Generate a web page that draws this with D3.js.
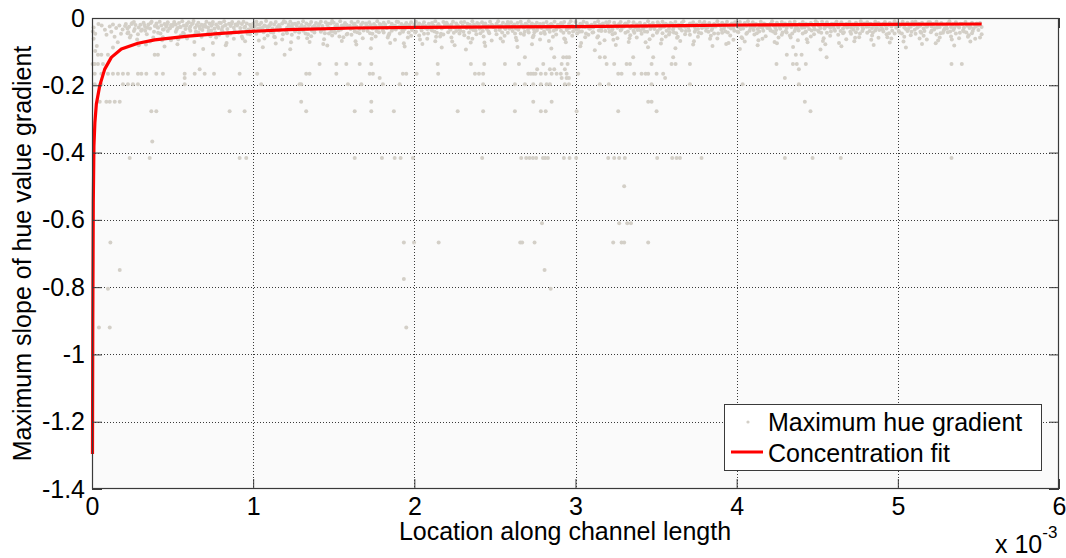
<!DOCTYPE html>
<html>
<head>
<meta charset="utf-8">
<script src="https://cdn.jsdelivr.net/npm/d3@7"></script>
<style>
  html, body { margin: 0; padding: 0; background: #fff; }
  svg text { font-family: "Liberation Sans", Arial, sans-serif; fill: #000; }
</style>
</head>
<body>
<div id="chart"></div>
<script>
// tick values (x axis is in units of 10^-3)
var xTicks = [0, 1, 2, 3, 4, 5, 6];
var yTicks = [0, -0.2, -0.4, -0.6, -0.8, -1, -1.2, -1.4];
var yTickLabels = ['0', '-0.2', '-0.4', '-0.6', '-0.8', '-1', '-1.2', '-1.4'];

// concentration fit
var fitX = [0.003, 0.005, 0.008, 0.012, 0.018, 0.027, 0.048, 0.079, 0.12, 0.182, 0.285, 0.389, 0.596, 0.802, 0.988, 1.216, 1.63, 2.02, 3.0, 3.66, 4.04, 4.85, 5.52];
var fitY = [-1.296, -0.9, -0.55, -0.38, -0.31, -0.256, -0.201, -0.152, -0.117, -0.092, -0.075, -0.065, -0.054, -0.0456, -0.0397, -0.0347, -0.0297, -0.0277, -0.0258, -0.0229, -0.0208, -0.0187, -0.0178];

// dense cloud of maximum hue gradient points near the top
var bandPts = [
[0.01,-.028],[0.02,-.047],[0.01,-.062],[0.03,-.083],[0.02,-.098],[0.06,-.022],[0.08,-.035],[0.09,-.05],[0.005,-.04],[0.04,-.018],
[0.11,-.025],[0.12,-.041],[0.13,-.019],[0.14,-.056],[0.15,-.03],[0.16,-.072],[0.17,-.022],[0.18,-.047],[0.19,-.034],[0.13,-.088],
[0.21,-.018],[0.22,-.031],[0.23,-.026],[0.24,-.052],[0.25,-.015],[0.26,-.039],[0.27,-.021],[0.28,-.064],[0.29,-.028],[0.22,-.045],[0.26,-.012],[0.29,-.081],
[0.30,-.02],[0.31,-.034],[0.32,-.014],[0.33,-.027],[0.34,-.048],[0.35,-.019],[0.36,-.031],[0.37,-.011],[0.38,-.058],[0.39,-.024],[0.33,-.038],[0.36,-.07],
[0.40,-.016],[0.41,-.029],[0.42,-.011],[0.43,-.022],[0.44,-.034],[0.45,-.018],[0.46,-.026],[0.47,-.013],[0.48,-.031],[0.49,-.021],[0.41,-.044],[0.44,-.057],[0.47,-.039],[0.49,-.066],[0.45,-.085],
[0.50,-.024],[0.51,-.012],[0.52,-.019],[0.53,-.03],[0.54,-.015],[0.55,-.027],[0.56,-.01],[0.57,-.022],[0.58,-.033],[0.59,-.017],[0.52,-.041],[0.55,-.052],[0.57,-.047],[0.59,-.061],[0.53,-.078],
[0.60,-.013],[0.61,-.025],[0.62,-.018],[0.63,-.009],[0.64,-.029],[0.65,-.021],[0.66,-.014],[0.67,-.032],[0.68,-.02],[0.69,-.026],[0.61,-.038],[0.64,-.049],[0.66,-.043],[0.68,-.056],[0.69,-.092],
[0.70,-.02],[0.71,-.011],[0.72,-.028],[0.73,-.016],[0.74,-.023],[0.75,-.012],[0.76,-.031],[0.77,-.019],[0.78,-.025],[0.79,-.014],[0.72,-.045],[0.74,-.037],[0.77,-.058],[0.79,-.05],[0.75,-.074],
[0.80,-.015],[0.81,-.027],[0.82,-.01],[0.83,-.021],[0.84,-.033],[0.85,-.017],[0.86,-.024],[0.87,-.012],[0.88,-.029],[0.89,-.019],[0.81,-.04],[0.84,-.053],[0.86,-.046],[0.88,-.062],[0.83,-.081],
[0.90,-.022],[0.91,-.013],[0.92,-.03],[0.93,-.018],[0.94,-.011],[0.95,-.026],[0.96,-.016],[0.97,-.034],[0.98,-.02],[0.99,-.028],[0.91,-.043],[0.93,-.055],[0.96,-.038],[0.98,-.048],[0.95,-.069],
[1.00,-.017],[1.01,-.026],[1.02,-.011],[1.03,-.032],[1.04,-.02],[1.05,-.014],[1.06,-.028],[1.07,-.022],[1.08,-.009],[1.09,-.03],[1.02,-.047],[1.04,-.039],[1.07,-.061],[1.09,-.052],[1.06,-.087],
[1.10,-.024],[1.11,-.015],[1.12,-.031],[1.13,-.019],[1.14,-.012],[1.15,-.027],[1.16,-.021],[1.17,-.034],[1.18,-.016],[1.19,-.01],[1.11,-.042],[1.13,-.056],[1.16,-.037],[1.18,-.064],[1.14,-.076],
[1.20,-.013],[1.21,-.029],[1.22,-.02],[1.23,-.011],[1.24,-.025],[1.25,-.033],[1.26,-.017],[1.27,-.023],[1.28,-.014],[1.29,-.028],[1.21,-.045],[1.24,-.05],[1.26,-.04],[1.28,-.059],[1.23,-.093],
[1.30,-.021],[1.31,-.01],[1.32,-.026],[1.33,-.016],[1.34,-.031],[1.35,-.019],[1.36,-.012],[1.37,-.027],[1.38,-.023],[1.39,-.015],[1.31,-.038],[1.34,-.048],[1.36,-.054],[1.38,-.043],[1.35,-.071],
[1.40,-.028],[1.41,-.018],[1.42,-.011],[1.43,-.024],[1.44,-.034],[1.45,-.013],[1.46,-.021],[1.47,-.03],[1.48,-.016],[1.49,-.009],[1.42,-.041],[1.44,-.063],[1.47,-.046],[1.49,-.052],[1.46,-.082],
[1.50,-.014],[1.51,-.025],[1.52,-.019],[1.53,-.032],[1.54,-.01],[1.55,-.022],[1.56,-.029],[1.57,-.015],[1.58,-.02],[1.59,-.026],[1.51,-.044],[1.53,-.037],[1.56,-.057],[1.58,-.049],[1.55,-.068],
[1.60,-.023],[1.61,-.012],[1.62,-.03],[1.63,-.017],[1.64,-.025],[1.65,-.011],[1.66,-.033],[1.67,-.019],[1.68,-.014],[1.69,-.028],[1.61,-.05],[1.63,-.04],[1.66,-.045],[1.68,-.06],[1.64,-.079],
[1.70,-.016],[1.71,-.027],[1.72,-.013],[1.73,-.021],[1.74,-.031],[1.75,-.018],[1.76,-.024],[1.77,-.01],[1.78,-.029],[1.79,-.02],[1.71,-.039],[1.74,-.047],[1.76,-.055],[1.78,-.042],[1.73,-.09],
[1.80,-.025],[1.81,-.014],[1.82,-.02],[1.83,-.03],[1.84,-.012],[1.85,-.026],[1.86,-.017],[1.87,-.032],[1.88,-.022],[1.89,-.011],[1.81,-.043],[1.84,-.051],[1.86,-.038],[1.88,-.065],[1.85,-.074],
[1.90,-.012],[1.91,-.028],[1.92,-.018],[1.93,-.023],[1.94,-.033],[1.95,-.015],[1.96,-.027],[1.97,-.02],[1.98,-.013],[1.99,-.03],[1.91,-.046],[1.93,-.041],[1.96,-.058],[1.98,-.053],[1.94,-.085],
[2.00,-.019],[2.01,-.011],[2.02,-.026],[2.03,-.016],[2.04,-.03],[2.05,-.021],[2.06,-.013],[2.07,-.024],[2.08,-.033],[2.09,-.017],[2.01,-.04],[2.03,-.052],[2.06,-.047],[2.08,-.062],[2.05,-.077],
[2.10,-.027],[2.11,-.015],[2.12,-.022],[2.13,-.01],[2.14,-.029],[2.15,-.018],[2.16,-.025],[2.17,-.031],[2.18,-.012],[2.19,-.021],[2.11,-.037],[2.14,-.044],[2.16,-.055],[2.18,-.049],[2.13,-.069],[2.17,-.088],
[2.20,-.014],[2.21,-.023],[2.22,-.031],[2.23,-.019],[2.24,-.011],[2.25,-.028],[2.26,-.016],[2.27,-.022],[2.28,-.034],[2.29,-.013],[2.21,-.042],[2.23,-.058],[2.26,-.039],[2.28,-.046],[2.25,-.081],
[2.30,-.022],[2.31,-.012],[2.32,-.027],[2.33,-.017],[2.34,-.024],[2.35,-.032],[2.36,-.01],[2.37,-.019],[2.38,-.026],[2.39,-.015],[2.31,-.051],[2.34,-.043],[2.36,-.062],[2.38,-.038],[2.35,-.073],[2.32,-.094],
[2.40,-.018],[2.41,-.029],[2.42,-.013],[2.43,-.021],[2.44,-.016],[2.45,-.033],[2.46,-.024],[2.47,-.011],[2.48,-.02],[2.49,-.027],[2.41,-.045],[2.43,-.055],[2.46,-.04],[2.48,-.067],[2.44,-.083],
[2.50,-.025],[2.51,-.017],[2.52,-.01],[2.53,-.03],[2.54,-.022],[2.55,-.014],[2.56,-.028],[2.57,-.019],[2.58,-.012],[2.59,-.032],[2.51,-.048],[2.53,-.036],[2.56,-.053],[2.58,-.044],[2.55,-.07],
[2.60,-.013],[2.61,-.024],[2.62,-.019],[2.63,-.031],[2.64,-.015],[2.65,-.027],[2.66,-.011],[2.67,-.022],[2.68,-.029],[2.69,-.017],[2.61,-.039],[2.63,-.059],[2.66,-.046],[2.68,-.05],[2.64,-.086],
[2.70,-.021],[2.71,-.01],[2.72,-.028],[2.73,-.016],[2.74,-.033],[2.75,-.02],[2.76,-.014],[2.77,-.025],[2.78,-.018],[2.79,-.03],[2.71,-.043],[2.74,-.052],[2.76,-.037],[2.78,-.064],[2.73,-.078],
[2.80,-.016],[2.81,-.026],[2.82,-.012],[2.83,-.022],[2.84,-.03],[2.85,-.018],[2.86,-.024],[2.87,-.011],[2.88,-.034],[2.89,-.02],[2.81,-.047],[2.84,-.041],[2.86,-.056],[2.88,-.049],[2.85,-.091],
[2.90,-.027],[2.91,-.015],[2.92,-.021],[2.93,-.012],[2.94,-.025],[2.95,-.031],[2.96,-.018],[2.97,-.01],[2.98,-.023],[2.99,-.029],[2.91,-.038],[2.93,-.061],[2.96,-.044],[2.98,-.053],[2.94,-.072],
[3.00,-.012],[3.01,-.023],[3.02,-.03],[3.03,-.017],[3.04,-.02],[3.05,-.011],[3.06,-.027],[3.07,-.015],[3.08,-.022],[3.09,-.032],[3.01,-.046],[3.04,-.04],[3.06,-.057],[3.08,-.05],[3.03,-.084],
[3.10,-.02],[3.11,-.028],[3.12,-.014],[3.13,-.024],[3.14,-.01],[3.15,-.019],[3.16,-.031],[3.17,-.016],[3.18,-.026],[3.19,-.013],[3.11,-.042],[3.14,-.054],[3.16,-.039],[3.18,-.066],[3.15,-.075],[3.12,-.096],
[3.20,-.017],[3.21,-.011],[3.22,-.025],[3.23,-.033],[3.24,-.014],[3.25,-.022],[3.26,-.029],[3.27,-.018],[3.28,-.012],[3.29,-.024],[3.21,-.041],[3.23,-.048],[3.26,-.06],[3.28,-.037],[3.25,-.08],
[3.30,-.026],[3.31,-.016],[3.32,-.021],[3.33,-.011],[3.34,-.03],[3.35,-.023],[3.36,-.013],[3.37,-.028],[3.38,-.019],[3.39,-.032],[3.31,-.044],[3.34,-.051],[3.36,-.038],[3.38,-.058],[3.33,-.071],
[3.40,-.014],[3.41,-.022],[3.42,-.031],[3.43,-.018],[3.44,-.025],[3.45,-.01],[3.46,-.02],[3.47,-.027],[3.48,-.015],[3.49,-.033],[3.41,-.047],[3.43,-.04],[3.46,-.063],[3.48,-.052],[3.45,-.087],
[3.50,-.023],[3.51,-.013],[3.52,-.019],[3.53,-.029],[3.54,-.011],[3.55,-.026],[3.56,-.017],[3.57,-.021],[3.58,-.032],[3.59,-.015],[3.51,-.039],[3.54,-.045],[3.56,-.055],[3.58,-.049],[3.53,-.076],
[3.60,-.018],[3.61,-.027],[3.62,-.012],[3.63,-.024],[3.64,-.02],[3.65,-.031],[3.66,-.014],[3.67,-.01],[3.68,-.026],[3.69,-.022],[3.61,-.043],[3.63,-.059],[3.66,-.037],[3.68,-.048],[3.65,-.068],[3.62,-.09],
[3.70,-.029],[3.71,-.016],[3.72,-.022],[3.73,-.013],[3.74,-.027],[3.75,-.019],[3.76,-.033],[3.77,-.011],[3.78,-.024],[3.79,-.017],[3.71,-.05],[3.74,-.041],[3.76,-.056],[3.78,-.045],[3.73,-.079],
[3.80,-.012],[3.81,-.021],[3.82,-.028],[3.83,-.015],[3.84,-.023],[3.85,-.03],[3.86,-.018],[3.87,-.025],[3.88,-.01],[3.89,-.02],[3.81,-.038],[3.84,-.053],[3.86,-.046],[3.88,-.061],[3.85,-.083],
[3.90,-.024],[3.91,-.014],[3.92,-.032],[3.93,-.019],[3.94,-.011],[3.95,-.026],[3.96,-.021],[3.97,-.016],[3.98,-.029],[3.99,-.013],[3.91,-.044],[3.93,-.04],[3.96,-.052],[3.98,-.065],[3.95,-.074],
[4.00,-.019],[4.01,-.027],[4.02,-.012],[4.03,-.022],[4.04,-.031],[4.05,-.015],[4.06,-.024],[4.07,-.01],[4.08,-.02],[4.09,-.028],[4.01,-.042],[4.03,-.057],[4.06,-.047],[4.08,-.038],[4.05,-.07],[4.02,-.092],
[4.10,-.013],[4.11,-.025],[4.12,-.018],[4.13,-.033],[4.14,-.021],[4.15,-.011],[4.16,-.029],[4.17,-.016],[4.18,-.023],[4.19,-.03],[4.11,-.049],[4.14,-.04],[4.16,-.062],[4.18,-.054],[4.13,-.081],
[4.20,-.026],[4.21,-.017],[4.22,-.01],[4.23,-.022],[4.24,-.028],[4.25,-.014],[4.26,-.02],[4.27,-.032],[4.28,-.012],[4.29,-.024],[4.21,-.037],[4.24,-.045],[4.26,-.058],[4.28,-.05],[4.25,-.075],
[4.30,-.016],[4.31,-.03],[4.32,-.021],[4.33,-.013],[4.34,-.027],[4.35,-.019],[4.36,-.011],[4.37,-.025],[4.38,-.031],[4.39,-.018],[4.31,-.043],[4.33,-.052],[4.36,-.039],[4.38,-.066],[4.35,-.086],
[4.40,-.022],[4.41,-.012],[4.42,-.028],[4.43,-.017],[4.44,-.024],[4.45,-.033],[4.46,-.015],[4.47,-.02],[4.48,-.027],[4.49,-.01],[4.41,-.046],[4.43,-.04],[4.46,-.055],[4.48,-.048],[4.44,-.072],
[4.50,-.014],[4.51,-.023],[4.52,-.03],[4.53,-.011],[4.54,-.019],[4.55,-.026],[4.56,-.013],[4.57,-.021],[4.58,-.029],[4.59,-.017],[4.51,-.041],[4.54,-.06],[4.56,-.044],[4.58,-.053],[4.55,-.078],[4.52,-.094],
[4.60,-.025],[4.61,-.016],[4.62,-.011],[4.63,-.028],[4.64,-.02],[4.65,-.013],[4.66,-.031],[4.67,-.022],[4.68,-.018],[4.69,-.026],[4.61,-.038],[4.63,-.05],[4.66,-.045],[4.68,-.063],[4.65,-.084],
[4.70,-.012],[4.71,-.029],[4.72,-.019],[4.73,-.024],[4.74,-.014],[4.75,-.032],[4.76,-.021],[4.77,-.01],[4.78,-.027],[4.79,-.016],[4.71,-.047],[4.74,-.042],[4.76,-.057],[4.78,-.039],[4.73,-.069],
[4.80,-.02],[4.81,-.013],[4.82,-.026],[4.83,-.017],[4.84,-.03],[4.85,-.022],[4.86,-.011],[4.87,-.028],[4.88,-.015],[4.89,-.023],[4.81,-.044],[4.84,-.052],[4.86,-.037],[4.88,-.059],[4.85,-.08],
[4.90,-.027],[4.91,-.018],[4.92,-.012],[4.93,-.031],[4.94,-.021],[4.95,-.015],[4.96,-.025],[4.97,-.019],[4.98,-.01],[4.99,-.029],[4.91,-.04],[4.93,-.048],[4.96,-.061],[4.98,-.046],[4.95,-.073],
[5.00,-.016],[5.01,-.024],[5.02,-.02],[5.03,-.011],[5.04,-.028],[5.05,-.033],[5.06,-.014],[5.07,-.022],[5.08,-.026],[5.09,-.012],[5.01,-.043],[5.04,-.056],[5.06,-.039],[5.08,-.051],[5.05,-.088],
[5.10,-.021],[5.11,-.011],[5.12,-.029],[5.13,-.017],[5.14,-.023],[5.15,-.014],[5.16,-.031],[5.17,-.02],[5.18,-.026],[5.19,-.013],[5.11,-.047],[5.14,-.041],[5.16,-.053],[5.18,-.064],[5.15,-.077],
[5.20,-.013],[5.21,-.025],[5.22,-.018],[5.23,-.03],[5.24,-.011],[5.25,-.022],[5.26,-.027],[5.27,-.015],[5.28,-.02],[5.29,-.032],[5.21,-.038],[5.24,-.049],[5.26,-.058],[5.28,-.044],[5.25,-.067],
[5.30,-.024],[5.31,-.016],[5.32,-.01],[5.33,-.027],[5.34,-.019],[5.35,-.03],[5.36,-.013],[5.37,-.022],[5.38,-.028],[5.39,-.017],[5.31,-.042],[5.33,-.055],[5.36,-.046],[5.38,-.06],[5.35,-.082],
[5.40,-.018],[5.41,-.029],[5.42,-.012],[5.43,-.023],[5.44,-.02],[5.45,-.026],[5.46,-.014],[5.47,-.031],[5.48,-.021],[5.49,-.016],[5.41,-.04],[5.44,-.051],[5.46,-.045],[5.48,-.062],[5.45,-.07],
[5.50,-.022],[5.51,-.015],[5.52,-.027],[5.50,-.036],[5.52,-.048],[5.51,-.058]
];

// second layer of the cloud, filling the gaps between the first
var bandPts2 = [
[.205,-.024],[.225,-.042],[.245,-.018],[.265,-.033],[.285,-.048],[.235,-.058],
[.305,-.038],[.325,-.021],[.345,-.029],[.365,-.015],[.385,-.041],[.335,-.079],
[.405,-.027],[.425,-.046],[.445,-.034],[.465,-.02],[.485,-.03],[.435,-.066],
[.505,-.019],[.525,-.035],[.545,-.027],[.565,-.044],[.585,-.023],[.535,-.063],
[.605,-.031],[.625,-.016],[.645,-.04],[.665,-.025],[.685,-.036],[.635,-.071],
[.705,-.026],[.725,-.037],[.745,-.019],[.765,-.043],[.785,-.03],[.735,-.054],
[.805,-.035],[.825,-.022],[.845,-.045],[.865,-.017],[.885,-.039],[.835,-.074],
[.905,-.018],[.925,-.04],[.945,-.028],[.965,-.047],[.985,-.024],[.935,-.061],
[1.005,-.036],[1.025,-.019],[1.045,-.031],[1.065,-.042],[1.085,-.025],[1.035,-.067],
[1.105,-.02],[1.125,-.044],[1.145,-.033],[1.165,-.026],[1.185,-.048],[1.135,-.057],
[1.205,-.039],[1.225,-.024],[1.245,-.018],[1.265,-.035],[1.285,-.043],[1.235,-.072],
[1.305,-.029],[1.325,-.046],[1.345,-.021],[1.365,-.038],[1.385,-.032],[1.335,-.06],
[1.405,-.023],[1.425,-.036],[1.445,-.045],[1.465,-.017],[1.485,-.04],[1.435,-.077],
[1.505,-.041],[1.525,-.027],[1.545,-.034],[1.565,-.021],[1.585,-.047],[1.535,-.055],
[1.605,-.033],[1.625,-.019],[1.645,-.042],[1.665,-.028],[1.685,-.037],[1.635,-.069],
[1.705,-.022],[1.725,-.045],[1.745,-.03],[1.765,-.039],[1.785,-.018],[1.735,-.062],
[1.805,-.037],[1.825,-.028],[1.845,-.046],[1.865,-.023],[1.885,-.034],[1.835,-.058],
[1.905,-.025],[1.925,-.038],[1.945,-.02],[1.965,-.043],[1.985,-.036],[1.935,-.075],
[2.005,-.043],[2.025,-.021],[2.045,-.037],[2.065,-.029],[2.085,-.046],[2.035,-.064],
[2.105,-.034],[2.125,-.04],[2.145,-.023],[2.165,-.047],[2.185,-.027],[2.135,-.056],
[2.205,-.019],[2.225,-.035],[2.245,-.044],[2.265,-.026],[2.285,-.038],[2.235,-.07],
[2.305,-.041],[2.325,-.03],[2.345,-.02],[2.365,-.036],[2.385,-.048],[2.335,-.059],
[2.405,-.032],[2.425,-.039],[2.445,-.026],[2.465,-.045],[2.485,-.022],[2.435,-.073],
[2.505,-.037],[2.525,-.024],[2.545,-.043],[2.565,-.033],[2.585,-.019],[2.535,-.061],
[2.605,-.028],[2.625,-.046],[2.645,-.035],[2.665,-.021],[2.685,-.041],[2.635,-.066],
[2.705,-.036],[2.725,-.02],[2.745,-.042],[2.765,-.03],[2.785,-.045],[2.735,-.057],
[2.805,-.04],[2.825,-.033],[2.845,-.019],[2.865,-.038],[2.885,-.027],[2.835,-.068],
[2.905,-.021],[2.925,-.044],[2.945,-.036],[2.965,-.029],[2.985,-.04],[2.935,-.063],
[3.005,-.035],[3.025,-.041],[3.045,-.026],[3.065,-.046],[3.085,-.031],[3.035,-.074],
[3.105,-.043],[3.125,-.023],[3.145,-.037],[3.165,-.02],[3.185,-.039],[3.135,-.058],
[3.205,-.03],[3.225,-.038],[3.245,-.045],[3.265,-.024],[3.285,-.034],[3.235,-.065],
[3.305,-.019],[3.325,-.04],[3.345,-.027],[3.365,-.044],[3.385,-.036],[3.335,-.06],
[3.405,-.037],[3.425,-.026],[3.445,-.041],[3.465,-.033],[3.485,-.022],[3.435,-.072],
[3.505,-.044],[3.525,-.032],[3.545,-.02],[3.565,-.038],[3.585,-.042],[3.535,-.064],
[3.605,-.034],[3.625,-.045],[3.645,-.029],[3.665,-.023],[3.685,-.039],[3.635,-.056],
[3.705,-.038],[3.725,-.021],[3.745,-.035],[3.765,-.044],[3.785,-.03],[3.735,-.069],
[3.805,-.027],[3.825,-.041],[3.845,-.036],[3.865,-.02],[3.885,-.046],[3.835,-.062],
[3.905,-.035],[3.925,-.025],[3.945,-.043],[3.965,-.031],[3.985,-.038],[3.935,-.077],
[4.005,-.04],[4.025,-.033],[4.045,-.021],[4.065,-.044],[4.085,-.029],[4.035,-.06],
[4.105,-.036],[4.125,-.045],[4.145,-.027],[4.165,-.038],[4.185,-.02],[4.135,-.066],
[4.205,-.031],[4.225,-.04],[4.245,-.036],[4.265,-.025],[4.285,-.043],[4.235,-.071],
[4.305,-.039],[4.325,-.022],[4.345,-.046],[4.365,-.032],[4.385,-.037],[4.335,-.058],
[4.405,-.029],[4.425,-.042],[4.445,-.019],[4.465,-.037],[4.485,-.034],[4.435,-.063],
[4.505,-.037],[4.525,-.044],[4.545,-.031],[4.565,-.024],[4.585,-.04],[4.535,-.068],
[4.605,-.033],[4.625,-.021],[4.645,-.039],[4.665,-.042],[4.685,-.028],[4.635,-.074],
[4.705,-.041],[4.725,-.035],[4.745,-.024],[4.765,-.046],[4.785,-.032],[4.735,-.059],
[4.805,-.026],[4.825,-.039],[4.845,-.043],[4.865,-.03],[4.885,-.036],[4.835,-.065],
[4.905,-.034],[4.925,-.023],[4.945,-.045],[4.965,-.038],[4.985,-.021],[4.935,-.057],
[5.005,-.039],[5.025,-.046],[5.045,-.02],[5.065,-.033],[5.085,-.041],[5.035,-.07],
[5.105,-.035],[5.125,-.027],[5.145,-.044],[5.165,-.039],[5.185,-.023],[5.135,-.061],
[5.205,-.042],[5.225,-.034],[5.245,-.028],[5.265,-.045],[5.285,-.037],[5.235,-.075],
[5.305,-.031],[5.325,-.04],[5.345,-.036],[5.365,-.022],[5.385,-.044],[5.335,-.064],
[5.405,-.037],[5.425,-.043],[5.445,-.03],[5.465,-.039],[5.485,-.025],[5.435,-.056]
];

// sparse points that sit on discrete levels below the cloud
var rowLevels = [-0.109, -0.117, -0.137, -0.152, -0.166, -0.178, -0.197, -0.249, -0.277, -0.367, -0.416, -0.5, -0.61, -0.667, -0.749, -0.776, -0.805, -0.92];
var rowXs = [
  [0.037, 0.058, 0.099, 0.389, 0.409, 0.637, 0.751, 0.916, 1.195, 4.311, 4.367, 4.403],
  [2.686, 2.868, 2.924, 2.945, 2.961, 3.151, 3.182, 3.358, 3.482, 3.606, 4.558],
  [0.004, 0.017, 0.037, 0.068, 1.412, 1.516, 1.578, 1.661, 1.733, 2.145, 2.351, 2.434, 2.562, 2.649, 2.8, 2.914, 2.951, 3.193, 3.24, 3.317, 3.338, 3.472, 3.596, 3.621, 3.71, 4.247, 4.349, 4.373, 4.429, 5.333, 5.397],
  [0.668, 2.762, 2.841, 2.868, 2.934, 4.386],
  [0.017, 0.058, 0.099, 0.13, 0.161, 0.192, 0.223, 0.285, 0.306, 0.337, 0.399, 0.44, 0.575, 0.637, 0.699, 0.757, 0.916, 1.025, 1.329, 1.35, 1.516, 1.723, 1.743, 1.929, 1.95, 2.014, 2.148, 2.376, 2.401, 2.427, 2.707, 2.723, 2.738, 2.752, 2.785, 2.815, 2.852, 2.883, 2.909, 2.945, 3.017, 3.265, 3.286, 3.364, 3.41, 3.435, 3.451, 3.503, 3.544],
  [0.575, 1.785, 2.914, 2.945, 2.959, 3.556, 4.299],
  [0.017, 0.058, 0.192, 0.223, 0.254, 0.285, 0.575, 1.05, 1.288, 1.298, 1.588, 1.671, 1.805, 1.909, 2.427, 2.624, 2.686, 2.738, 2.785, 2.821, 2.841, 2.934, 2.959, 3.151, 3.207, 3.472, 3.71, 4.037, 4.386],
  [0.048, 0.089, 0.11, 0.141, 0.172, 1.298, 1.733, 2.738, 2.852, 3.451, 3.472, 4.423],
  [0.368, 0.399, 0.854, 0.947, 1.329, 1.63, 1.733, 1.873, 2.269, 2.427, 2.624, 2.785, 2.815, 3.007, 3.265, 3.503, 4.458],
  [0.374],
  [0.234, 0.358, 0.916, 0.957, 1.63, 1.799, 1.878, 1.915, 1.991, 2.421, 2.663, 2.694, 2.715, 2.736, 2.756, 2.798, 2.812, 2.829, 2.928, 2.963, 3.004, 3.203, 3.24, 3.271, 3.306, 3.507, 3.6, 3.627, 3.648, 3.782, 4.299, 4.471, 4.646, 5.333],
  [3.302],
  [2.792, 3.271, 3.321, 3.344],
  [0.114, 1.935, 1.998, 2.151, 2.657, 2.669, 2.746, 3.234, 3.286, 3.302, 3.451],
  [0.172, 2.808],
  [1.935],
  [0.099, 2.846],
  [0.043, 0.11, 1.95]
];

var legendLabels = ['Maximum hue gradient', 'Concentration fit'];

var W = 1066, H = 558;
var plot = { left: 92, right: 1059, top: 18, bottom: 489 };

var svg = d3.select('#chart').append('svg')
    .attr('width', W)
    .attr('height', H)
    .style('display', 'block')
    .style('background', '#fff');

var x = d3.scaleLinear().domain([0, 6]).range([plot.left, plot.right]);
var y = d3.scaleLinear().domain([-1.4, 0]).range([plot.bottom, plot.top]);

// plot background
svg.append('rect')
    .attr('x', plot.left).attr('y', plot.top)
    .attr('width', plot.right - plot.left)
    .attr('height', plot.bottom - plot.top)
    .attr('fill', '#fafafa');

// dotted grid
var grid = svg.append('g').attr('stroke', '#3a3a3a').attr('stroke-width', 1)
    .attr('stroke-dasharray', '1,2').attr('shape-rendering', 'crispEdges');
grid.selectAll('.gx').data(xTicks.slice(1, -1)).enter().append('line')
    .attr('x1', function(d) { return Math.round(x(d)) + 0.5; })
    .attr('x2', function(d) { return Math.round(x(d)) + 0.5; })
    .attr('y1', plot.top).attr('y2', plot.bottom);
grid.selectAll('.gy').data(yTicks.slice(1, -1)).enter().append('line')
    .attr('y1', function(d) { return Math.round(y(d)) + 0.5; })
    .attr('y2', function(d) { return Math.round(y(d)) + 0.5; })
    .attr('x1', plot.left).attr('x2', plot.right);

// scatter points
var sparsePts = [];
rowLevels.forEach(function(lv, i) {
    rowXs[i].forEach(function(v) { sparsePts.push([v, lv]); });
});
var allPts = bandPts.concat(bandPts2, sparsePts);

svg.append('g').selectAll('circle')
    .data(allPts)
    .enter().append('circle')
    .attr('cx', function(d) { return x(d[0]); })
    .attr('cy', function(d) { return y(d[1]); })
    .attr('r', 2)
    .attr('fill', '#d3cfc7');

// fit curve
var line = d3.line()
    .x(function(d) { return x(d[0]); })
    .y(function(d) { return y(d[1]); });
svg.append('path')
    .datum(fitX.map(function(v, i) { return [v, fitY[i]]; }))
    .attr('d', line)
    .attr('fill', 'none')
    .attr('stroke', '#ff0000')
    .attr('stroke-width', 3.2)
    .attr('stroke-linejoin', 'round');

// axes, inward ticks on all four sides
function styleAxis(g) {
    g.select('.domain').remove();
    g.selectAll('.tick line').attr('stroke', '#3a3a3a').attr('stroke-width', 1);
    g.selectAll('.tick text').style('font-size', '25px').attr('fill', '#000')
        .attr('font-family', '"Liberation Sans", Arial, sans-serif');
}

svg.append('g').attr('transform', 'translate(0,' + plot.bottom + ')')
    .call(d3.axisBottom(x).tickValues(xTicks).tickSize(-10).tickPadding(8).tickFormat(function(d) { return String(d); }))
    .call(styleAxis);
svg.append('g').attr('transform', 'translate(0,' + plot.top + ')')
    .call(d3.axisTop(x).tickValues(xTicks).tickSize(-10).tickFormat(''))
    .call(styleAxis);
svg.append('g').attr('transform', 'translate(' + plot.left + ',0)')
    .call(d3.axisLeft(y).tickValues(yTicks).tickSize(-10).tickPadding(7)
        .tickFormat(function(d, i) { return yTickLabels[i]; }))
    .call(styleAxis);
svg.append('g').attr('transform', 'translate(' + plot.right + ',0)')
    .call(d3.axisRight(y).tickValues(yTicks).tickSize(-10).tickFormat(''))
    .call(styleAxis);

// box
svg.append('rect')
    .attr('x', plot.left + 0.5).attr('y', plot.top + 0.5)
    .attr('width', plot.right - plot.left - 1)
    .attr('height', plot.bottom - plot.top - 1)
    .attr('fill', 'none')
    .attr('stroke', '#3a3a3a')
    .attr('stroke-width', 1.2);

// axis labels
svg.append('text')
    .attr('x', 565).attr('y', 540)
    .attr('text-anchor', 'middle')
    .style('font-size', '25px')
    .text('Location along channel length');

svg.append('text')
    .attr('transform', 'translate(31,' + ((plot.top + plot.bottom) / 2) + ') rotate(-90)')
    .attr('text-anchor', 'middle')
    .style('font-size', '25px')
    .text('Maximum slope of hue value gradient');

// x 10^-3 exponent
var expo = svg.append('text').attr('x', 995).attr('y', 553).style('font-size', '25px');
expo.append('tspan').text('x 10');
expo.append('tspan').attr('dy', -15).style('font-size', '17px').text('-3');

// legend
var lg = svg.append('g');
lg.append('rect')
    .attr('x', 724.5).attr('y', 404.5)
    .attr('width', 317).attr('height', 66)
    .attr('fill', '#fff')
    .attr('stroke', '#3a3a3a')
    .attr('stroke-width', 1);
lg.append('circle')
    .attr('cx', 748).attr('cy', 422).attr('r', 1.6)
    .attr('fill', '#d3cfc7');
lg.append('line')
    .attr('x1', 731).attr('x2', 763).attr('y1', 452).attr('y2', 452)
    .attr('stroke', '#ff0000').attr('stroke-width', 3);
lg.selectAll('text').data(legendLabels).enter().append('text')
    .attr('x', 768)
    .attr('y', function(d, i) { return 431 + i * 31; })
    .style('font-size', '25px')
    .text(function(d) { return d; });
</script>
</body>
</html>
